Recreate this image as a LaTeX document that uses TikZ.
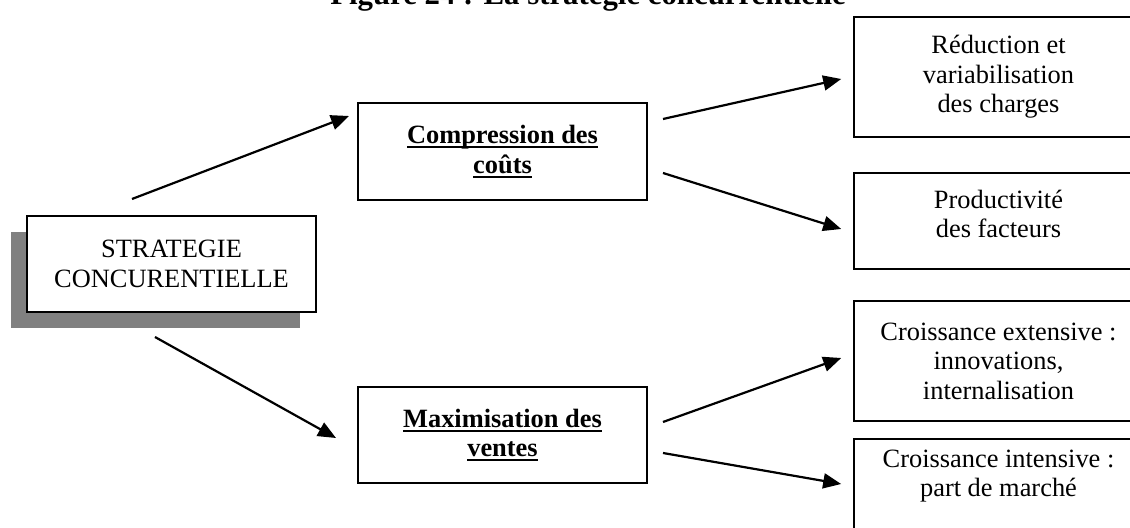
\documentclass[tikz,border=0pt]{standalone}
\usepackage{fontspec}
\setmainfont{Liberation Serif}
\usetikzlibrary{arrows.meta,calc}
\newcommand\myul[1]{\setbox0\hbox{#1}\rlap{\rule[-2.3pt]{\wd0}{1pt}}\box0}
\begin{document}
\begin{tikzpicture}[x=0.5pt,y=-0.5pt,
  txt/.style={font=\fontsize{13.2pt}{14.8pt}\selectfont, align=center, inner sep=0pt},
  box/.style={draw, line width=1pt, fill=white, minimum width=144.5pt, inner sep=0pt,
     font=\fontsize{13.2pt}{14.8pt}\selectfont, align=center},
  rbox/.style={draw, line width=0.8pt, fill=white, minimum width=144.5pt, inner sep=0pt,
     font=\fontsize{13.2pt}{14.8pt}\selectfont, align=center},
  arr/.style={line width=1.1pt, -{Triangle[length=9pt,width=7.5pt]}}]
\useasboundingbox (0,0) rectangle (1130,528);
% title (cut off at the top)
\node[anchor=base, inner sep=0pt, font=\fontsize{15.4pt}{17pt}\selectfont\bfseries] (title) at (588,5) {Figure 24 : La stratégie concurrentielle};
% main box with shadow
\node[box, minimum height=48pt, draw=none, fill=gray] (shadow) at (155.5,280) {};
\node[box, minimum height=48pt] (main) at (171.5,264) {STRATEGIE\\CONCURENTIELLE};
% middle boxes
\node[box, minimum height=48.5pt, font=\fontsize{13.2pt}{14.8pt}\selectfont\bfseries] (comp) at (502.5,151.5) {\myul{Compression des}\\\myul{coûts}};
\node[box, minimum height=48pt, font=\fontsize{13.2pt}{14.8pt}\selectfont\bfseries] (max) at (502.5,435) {\myul{Maximisation des}\\\myul{ventes}};
% right boxes
\node[rbox, minimum height=60pt] (b1) at (998.5,77) {Réduction et\\variabilisation\\des charges};
\node[rbox, minimum height=48pt] (b2) at (998.5,221) {};
\node[txt] (b2t) at (998.5,214) {Productivité\\des facteurs};
\node[rbox, minimum height=60pt] (b3) at (998.5,361) {Croissance extensive :\\innovations,\\internalisation};
\node[rbox, minimum height=48pt] (b4) at (998.5,487) {};
\node[txt] (b4t) at (998.5,476) {Croissance intensive :\\part de marché};
% arrows
\draw[arr] ([shift={(-39.5,-16)}]main.north) -- ([shift={(-8,-35.5)}]comp.west);
\draw[arr] ([shift={(-16.5,24)}]main.south) -- ([shift={(-21,3)}]max.west);
\draw[arr] ([shift={(15,-32.5)}]comp.east) -- ([shift={(-12,2)}]b1.west);
\draw[arr] ([shift={(15,21.5)}]comp.east) -- ([shift={(-12,8)}]b2.west);
\draw[arr] ([shift={(15,-13)}]max.east) -- ([shift={(-12,-3)}]b3.west);
\draw[arr] ([shift={(15,18)}]max.east) -- ([shift={(-12,-3)}]b4.west);
\end{tikzpicture}
\end{document}
